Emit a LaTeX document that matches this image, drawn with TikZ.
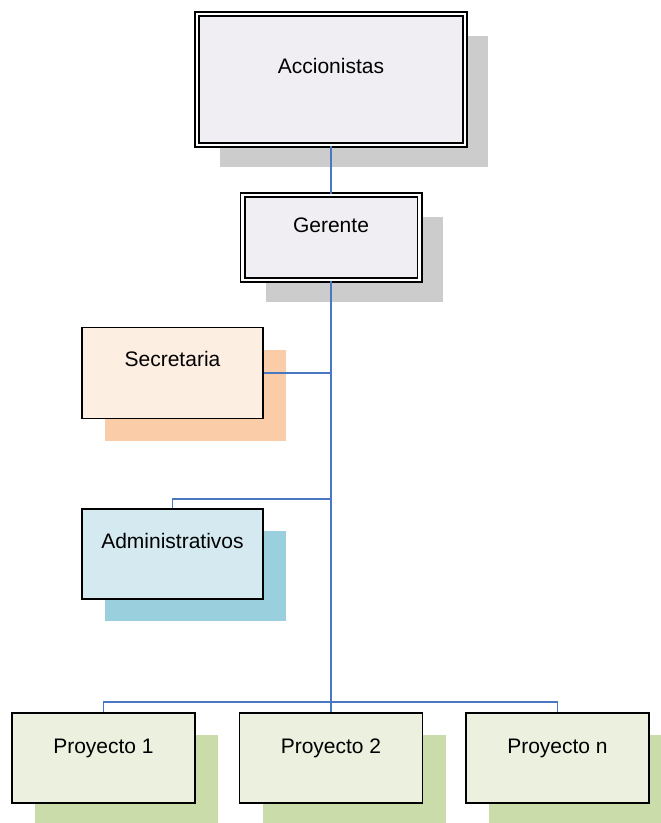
\documentclass[tikz,border=0pt]{standalone}
\usepackage{fontspec}
\setmainfont{Liberation Sans}
\usetikzlibrary{shadows}
\definecolor{linkblue}{HTML}{4A76C2}
\definecolor{topfill}{HTML}{F0EEF3}
\definecolor{topshade}{HTML}{CCCCCC}
\definecolor{secfill}{HTML}{FDEEE2}
\definecolor{secshade}{HTML}{FACDA8}
\definecolor{admfill}{HTML}{D4EAF0}
\definecolor{admshade}{HTML}{9ACFDD}
\definecolor{projfill}{HTML}{EBF0DF}
\definecolor{projshade}{HTML}{CBDCAB}
\begin{document}
\begin{tikzpicture}[x=1pt, y=-1pt,
    box/.style={draw=black, line width=1.8pt, inner sep=0pt,
      font=\fontsize{21}{25}\selectfont},
    shade/.style={drop shadow={shadow xshift=23pt, shadow yshift=-22pt,
      opacity=1, fill=#1}},
    headbox/.style={box, line width=1.6pt, double=white, double distance=2.8pt,
      fill=topfill, shade=topshade},
    link/.style={draw=linkblue, line width=1.6pt}]
  \useasboundingbox (0,0) rectangle (661,823);

  \node[headbox, minimum width=268pt, text height=59pt, text depth=72pt]
    (acc) at (331,79.5) {Accionistas};
  \node[headbox, minimum width=177pt, text height=37pt, text depth=48pt]
    (ger) at (331,237.5) {Gerente};

  \node[box, fill=secfill, shade=secshade, minimum width=181pt,
    text height=38.5pt, text depth=52.5pt] (sec) at (172.5,373) {Secretaria};
  \node[box, fill=admfill, shade=admshade, minimum width=181pt,
    text height=39pt, text depth=51pt] (adm) at (172.5,554) {Administrativos};

  \node[box, fill=projfill, shade=projshade, minimum width=183pt,
    text height=40pt, text depth=50pt] (p1) at (103.5,758) {Proyecto 1};
  \node[box, fill=projfill, shade=projshade, minimum width=183pt,
    text height=40pt, text depth=50pt] (p2) at (331,758) {Proyecto 2};
  \node[box, fill=projfill, shade=projshade, minimum width=183pt,
    text height=40pt, text depth=50pt] (p3) at (557.5,758) {Proyecto n};

  \coordinate (admjoin) at (331,499);
  \coordinate (bus) at (331,702);

  \draw[link] (acc.south) -- (ger.north);
  \draw[link] (ger.south) -- (p2.north);
  \draw[link] (sec.east) -- (sec.east -| ger.south);
  \draw[link] (adm.north) |- (admjoin);
  \draw[link] (p1.north) |- (bus) -| (p3.north);
\end{tikzpicture}
\end{document}
